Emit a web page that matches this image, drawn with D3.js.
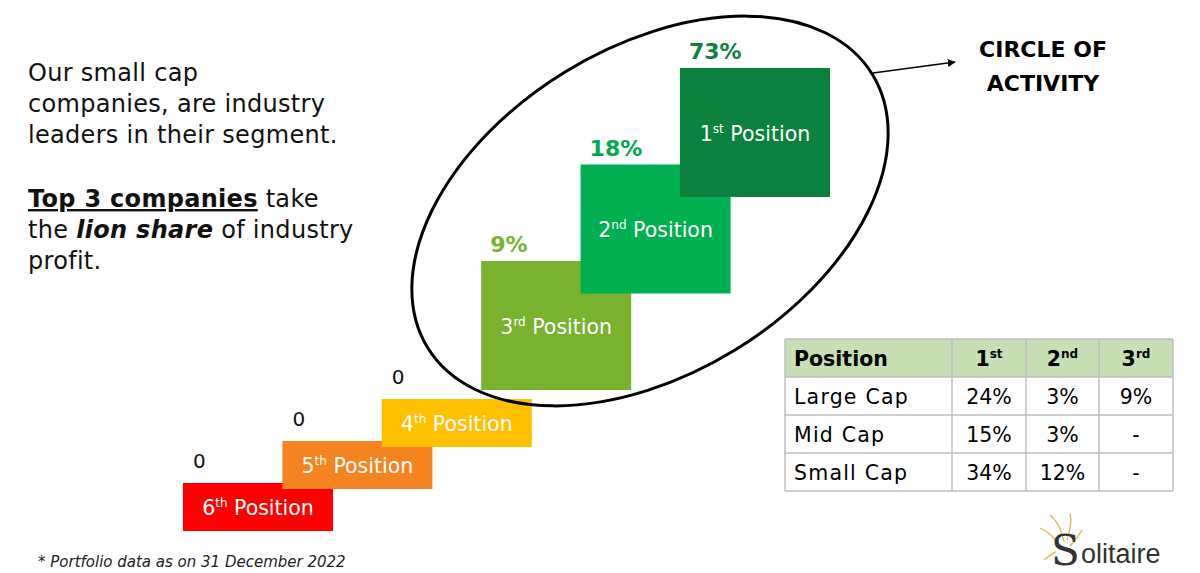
<!DOCTYPE html>
<html>
<head>
<meta charset="utf-8">
<script src="https://cdn.jsdelivr.net/npm/d3@7"></script>
<style>
  body { margin: 0; background: #fff; }
  svg { display: block; font-family: 'DejaVu Sans', sans-serif; }
</style>
</head>
<body>
<svg id="chart"></svg>
<script>
// step data, left (6th) to right (1st)
const positions = ['6', '5', '4', '3', '2', '1'];
const suffixes = ['th', 'th', 'th', 'rd', 'nd', 'st'];
const shares = [0, 0, 0, 9, 18, 73];
const stepColors = ['#ff0000', '#f5831f', '#ffc000', '#78b22f', '#00b050', '#0a823d'];
const labelColors = ['#111', '#111', '#111', '#78b22f', '#00a84f', '#0f8040'];

// table data
const capRows = ['Large Cap', 'Mid Cap', 'Small Cap'];
const tableCols = [['1', 'st'], ['2', 'nd'], ['3', 'rd']];
const firstPos = ['24%', '15%', '34%'];
const secondPos = ['3%', '3%', '12%'];
const thirdPos = ['9%', '-', '-'];

const width = 1200, height = 573;

let svg = d3.select('#chart')
    .attr('width', width)
    .attr('height', height);

// step index -> left edge, step index -> bottom edge
let x = d3.scaleLinear().domain([0, 5]).range([183, 680]);
let yBottom = d3.scaleLinear().domain([0, 2, 3, 5]).range([531, 447, 390, 197]);
let boxH = i => shares[i] > 0 ? 129 : 48;
const boxW = 150;

// left text
let intro = svg.append('g')
    .attr('font-size', '24px')
    .attr('letter-spacing', '0.3px')
    .attr('fill', '#111');
[['Our small cap', 81], ['companies, are industry', 112], ['leaders in their segment.', 143]]
    .forEach(d => intro.append('text').attr('x', 28).attr('y', d[1]).text(d[0]));

let t4 = intro.append('text').attr('x', 28).attr('y', 207);
t4.append('tspan').attr('font-weight', 'bold').attr('text-decoration', 'underline').text('Top 3 companies');
t4.append('tspan').text(' take');
let t5 = intro.append('text').attr('x', 28).attr('y', 238);
t5.append('tspan').text('the ');
t5.append('tspan').attr('font-weight', 'bold').attr('font-style', 'italic').text('lion share');
t5.append('tspan').text(' of industry');
intro.append('text').attr('x', 28).attr('y', 269).text('profit.');

// steps
let steps = svg.append('g')
    .selectAll('g')
    .data(positions)
    .enter().append('g');

steps.append('rect')
    .attr('x', (d, i) => x(i))
    .attr('y', (d, i) => yBottom(i) - boxH(i))
    .attr('width', boxW)
    .attr('height', (d, i) => boxH(i))
    .attr('fill', (d, i) => stepColors[i]);

let names = steps.append('text')
    .attr('x', (d, i) => x(i) + boxW / 2)
    .attr('y', (d, i) => yBottom(i) - boxH(i) / 2 + 8)
    .attr('text-anchor', 'middle')
    .attr('fill', '#fff')
    .attr('font-size', '20.5px');
names.append('tspan').text(d => d);
names.append('tspan')
    .attr('font-size', '12px')
    .attr('dy', -8)
    .text((d, i) => suffixes[i]);
names.append('tspan')
    .attr('dy', 8)
    .text(' Position');

steps.append('text')
    .attr('x', (d, i) => x(i) + (shares[i] > 0 ? 9 : 10))
    .attr('y', (d, i) => yBottom(i) - boxH(i) - (shares[i] > 0 ? 9 : 15))
    .attr('fill', (d, i) => labelColors[i])
    .attr('font-size', (d, i) => shares[i] > 0 ? '22px' : '20px')
    .attr('font-weight', (d, i) => shares[i] > 0 ? 'bold' : 'normal')
    .text((d, i) => shares[i] > 0 ? shares[i] + '%' : '0');

// circle of activity
svg.append('ellipse')
    .attr('cx', 650).attr('cy', 211)
    .attr('rx', 261).attr('ry', 163)
    .attr('transform', 'rotate(-31.6, 650, 211)')
    .attr('fill', 'none')
    .attr('stroke', '#000')
    .attr('stroke-width', 3);

svg.append('defs').append('marker')
    .attr('id', 'arrow')
    .attr('viewBox', '0 0 10 10')
    .attr('refX', 9).attr('refY', 5)
    .attr('markerWidth', 5).attr('markerHeight', 5)
    .attr('orient', 'auto')
    .append('path')
    .attr('d', 'M0,0 L10,5 L0,10 z')
    .attr('fill', '#000');

svg.append('line')
    .attr('x1', 873).attr('y1', 73)
    .attr('x2', 955).attr('y2', 62)
    .attr('stroke', '#000')
    .attr('stroke-width', 1.6)
    .attr('marker-end', 'url(#arrow)');

let coa = svg.append('g').attr('font-size', '22px').attr('font-weight', 'bold').attr('text-anchor', 'middle');
coa.append('text').attr('x', 1043).attr('y', 57).text('CIRCLE OF');
coa.append('text').attr('x', 1043).attr('y', 91).text('ACTIVITY');

// table
let colX = [785, 952, 1026, 1099, 1173];
let rowY = [339, 377, 415, 453, 491];
let table = svg.append('g').attr('font-size', '20.5px');

table.append('rect')
    .attr('x', colX[0]).attr('y', rowY[0])
    .attr('width', colX[4] - colX[0]).attr('height', rowY[1] - rowY[0])
    .attr('fill', '#c6e0b4');

colX.forEach(cx => table.append('line')
    .attr('x1', cx).attr('x2', cx).attr('y1', rowY[0]).attr('y2', rowY[4])
    .attr('stroke', '#bfbfbf').attr('stroke-width', 1.5));
rowY.forEach(ry => table.append('line')
    .attr('x1', colX[0]).attr('x2', colX[4]).attr('y1', ry).attr('y2', ry)
    .attr('stroke', '#bfbfbf').attr('stroke-width', 1.5));

table.append('text')
    .attr('x', colX[0] + 9).attr('y', rowY[0] + 27)
    .attr('font-weight', 'bold')
    .text('Position');
tableCols.forEach((c, j) => {
    let t = table.append('text')
        .attr('x', (colX[j + 1] + colX[j + 2]) / 2)
        .attr('y', rowY[0] + 27)
        .attr('text-anchor', 'middle')
        .attr('font-weight', 'bold');
    t.append('tspan').text(c[0]);
    t.append('tspan').attr('font-size', '12px').attr('dy', -8).text(c[1]);
});

let cols = [firstPos, secondPos, thirdPos];
capRows.forEach((r, i) => {
    let ty = rowY[i + 1] + 27;
    table.append('text').attr('x', colX[0] + 9).attr('y', ty)
        .attr('letter-spacing', '1.2px')
        .text(r);
    cols.forEach((col, j) => {
        table.append('text')
            .attr('x', (colX[j + 1] + colX[j + 2]) / 2)
            .attr('y', ty)
            .attr('text-anchor', 'middle')
            .text(col[i]);
    });
});

// footnote
svg.append('text')
    .attr('x', 38).attr('y', 567)
    .attr('font-size', '15px')
    .attr('font-style', 'italic')
    .attr('fill', '#222')
    .text('* Portfolio data as on 31 December 2022');

// logo
let logo = svg.append('g');
[[1040, 528, 1060, 548], [1050, 515, 1064, 542], [1070, 514, 1067, 540], [1082, 530, 1070, 546], [1044, 560, 1056, 552]]
    .forEach(p => logo.append('path')
        .attr('d', `M${p[0]},${p[1]} Q${(p[0] + p[2]) / 2 + 4},${(p[1] + p[3]) / 2 - 4} ${p[2]},${p[3]}`)
        .attr('fill', 'none')
        .attr('stroke', '#d9b84a')
        .attr('stroke-width', 1.3));
logo.append('text')
    .attr('x', 1051).attr('y', 565)
    .attr('font-family', "'DejaVu Serif', serif")
    .attr('font-size', '42px')
    .attr('fill', '#333')
    .text('S');
logo.append('text')
    .attr('x', 1081).attr('y', 563)
    .attr('font-family', "'Liberation Sans', sans-serif")
    .attr('font-size', '27px')
    .attr('fill', '#333')
    .text('olitaire');
</script>
</body>
</html>
